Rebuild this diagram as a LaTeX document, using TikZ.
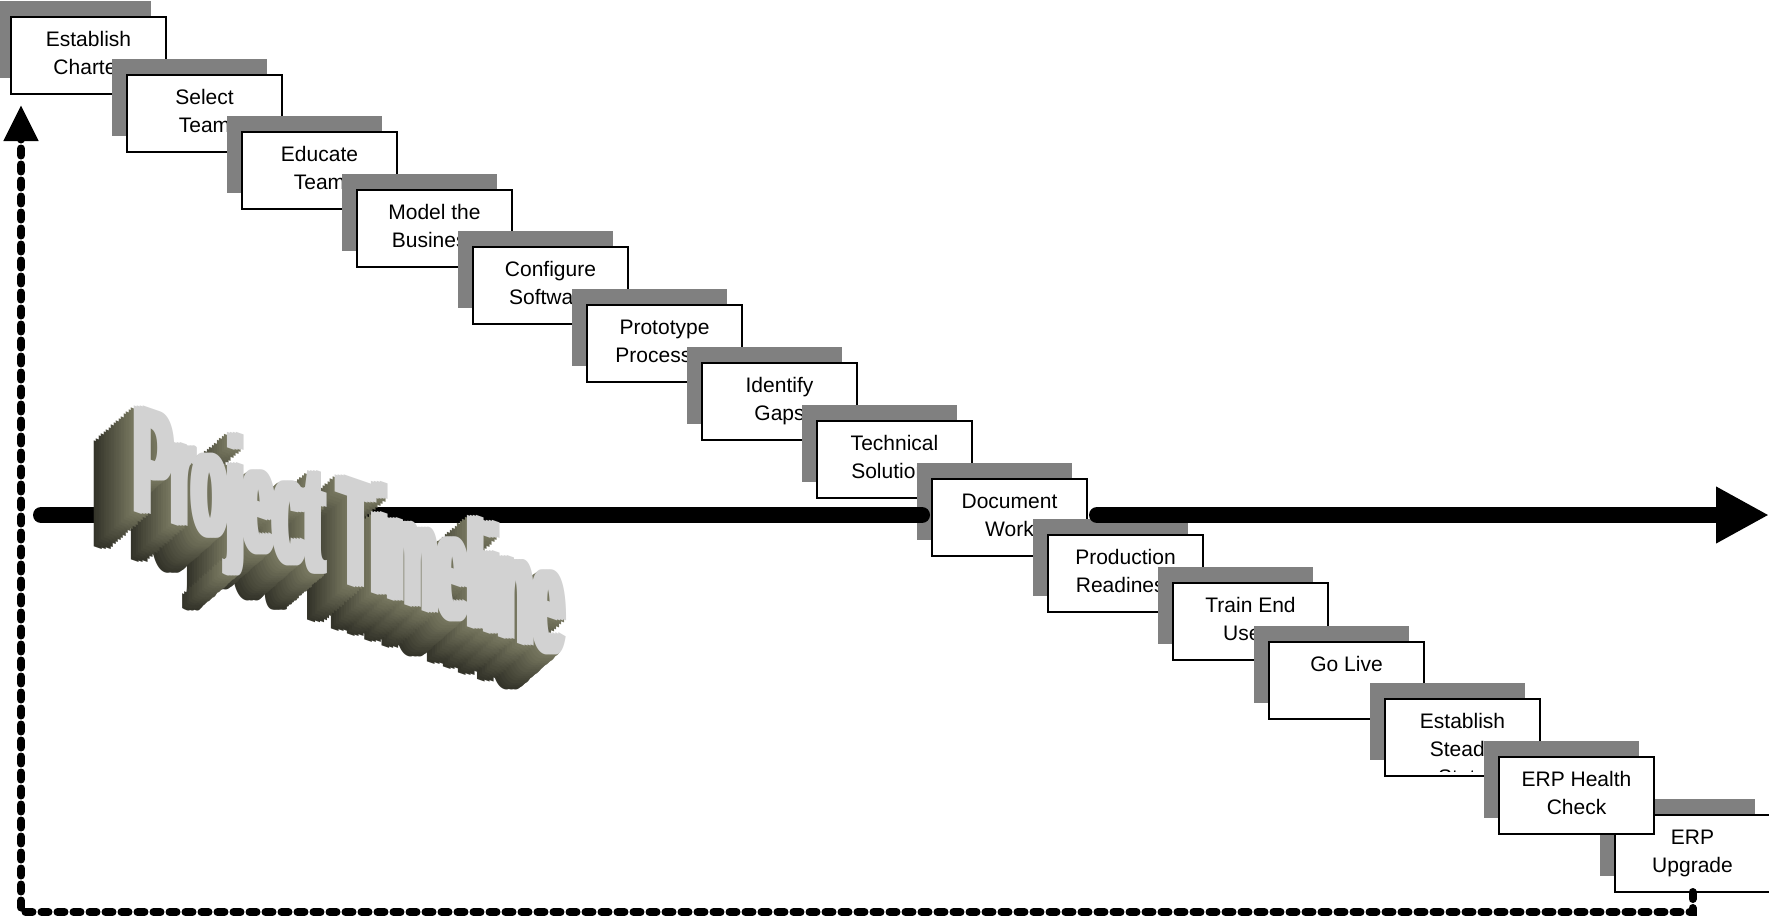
\documentclass[tikz,border=0pt]{standalone}
\usepackage{fontspec}
\setmainfont{Liberation Sans}
\usetikzlibrary{arrows.meta,calc}
\definecolor{shadowgray}{HTML}{808080}
\definecolor{waback}{HTML}{34342A}
\definecolor{wamid}{HTML}{7A7A62}
\definecolor{wafront}{HTML}{D2D2D2}
\tikzset{
  boxshadow/.style={fill=shadowgray},
  stepbox/.style={draw=black, fill=white, line width=1.6pt, minimum width=155pt, minimum height=77pt, inner sep=0pt, outer sep=0pt, anchor=north west},
  steptext/.style={inner sep=0pt, anchor=base, font=\fontsize{21}{28}\selectfont},
  timeline/.style={line width=16pt, line cap=round},
  loopline/.style={line width=8pt, line cap=round, dash pattern=on 7pt off 9pt},
  waletter/.style={transform shape, anchor=base west, inner sep=0pt, font=\bfseries\fontsize{154}{154}\selectfont},
}
\newcommand\walayer[4]{%
  \foreach \wsm in {#4}{%
    \begin{scope}[shift={(130+#1+\wsm,510+#2)}, yslant=-0.345, xscale=0.362]
      \node[waletter, text=#3] (wa) at (0,0) {Project Timeline};
    \end{scope}
  }%
}
\begin{document}
\begin{tikzpicture}[x=1pt,y=-1pt]
\useasboundingbox (0,0) rectangle (1769,916);
\fill[white] (0,0) rectangle (1769,916);

\foreach \i/\bx/\by/\txt in {
  1/11/17/{Establish\\Charter},
  2/127/75/{Select\\Team},
  3/242/132/{Educate\\Team},
  4/357/190/{Model the\\Business},
  5/473/247/{Configure\\Software},
  6/587/305/{Prototype\\Processes},
  7/702/363/{Identify\\Gaps},
  8/817/421/{Technical\\Solutions},
  9/932/479/{Document\\Work},
  10/1048/535/{Production\\Readiness},
  11/1173/583/{Train End\\Users},
  12/1269/642/{Go Live},
  13/1385/699/{Establish\\Steady\\State},
  15/1615/815/{ERP\\Upgrade},
  14/1499/757/{ERP Health\\Check}}{
  \fill[boxshadow] (\bx-15,\by-16) rectangle ++(155,77);
  \node[stepbox] (b\i) at (\bx,\by) {};
  \begin{scope}
    \clip (\bx+2,\by+2) rectangle (\bx+153,\by+72);
    \node[steptext] (t\i) at (\bx+77.5,\by+29) {\parbox[t]{150pt}{\centering \txt}};
  \end{scope}
}

% timeline
\coordinate (tlstart) at (41,515);
\coordinate (tlend) at (1769,515);
\draw[timeline] (tlstart) -- ($(tlstart -| b9.west)+(-10,0)$);
\draw[timeline, -{Triangle[length=53pt, width=53pt]}] ($(tlstart -| b9.east)+(10,0)$) -- (tlend);

% word art
\foreach \k in {16,15,...,1}{
  \pgfmathtruncatemacro\wap{100*(1-\k/16)}
  \colorlet{wacol}{wamid!\wap!waback}
  \walayer{-2.5*\k}{2.2*\k}{wacol}{0,4.5,9}
}
\walayer{0}{0}{wafront}{0,3,6,9}

% loop back
\coordinate (loopend) at (21,105);
\draw[loopline, -{Triangle[length=36pt, width=33pt]}] (b15.south) -- ++(0,20) -| (loopend);
\end{tikzpicture}
\end{document}
